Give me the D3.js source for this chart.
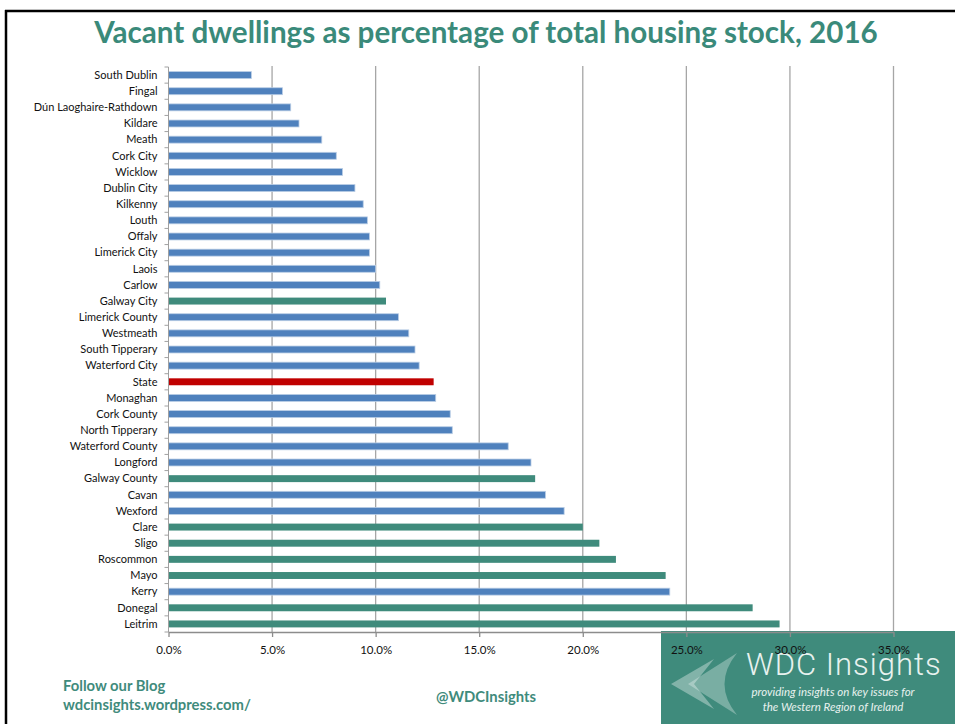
<!DOCTYPE html>
<html>
<head>
<meta charset="utf-8">
<script src="https://cdn.jsdelivr.net/npm/d3@7.9.0/dist/d3.min.js"></script>
<style>
  body { margin: 0; background: #fff; }
  svg { display: block; font-family: Lato, "Open Sans", sans-serif; }
</style>
</head>
<body>
<svg id="chart"></svg>
<script>
// areas, top to bottom, as in the picture
const areas = [
  'South Dublin', 'Fingal', 'Dún Laoghaire-Rathdown', 'Kildare', 'Meath',
  'Cork City', 'Wicklow', 'Dublin City', 'Kilkenny', 'Louth', 'Offaly',
  'Limerick City', 'Laois', 'Carlow', 'Galway City', 'Limerick County',
  'Westmeath', 'South Tipperary', 'Waterford City', 'State', 'Monaghan',
  'Cork County', 'North Tipperary', 'Waterford County', 'Longford',
  'Galway County', 'Cavan', 'Wexford', 'Clare', 'Sligo', 'Roscommon',
  'Mayo', 'Kerry', 'Donegal', 'Leitrim'
];

// vacancy rate, % of housing stock
const vacancy = [
  4.0, 5.5, 5.9, 6.3, 7.4,
  8.1, 8.4, 9.0, 9.4, 9.6, 9.7,
  9.7, 10.0, 10.2, 10.5, 11.1,
  11.6, 11.9, 12.1, 12.8, 12.9,
  13.6, 13.7, 16.4, 17.5,
  17.7, 18.2, 19.1, 20.0, 20.8, 21.6,
  24.0, 24.2, 28.2, 29.5
];

// western region counties get the teal bar, the State total is red
const western = ['Galway City', 'Galway County', 'Clare', 'Sligo', 'Roscommon', 'Mayo', 'Donegal', 'Leitrim'];
const stateName = 'State';

const xTicks = [0, 5, 10, 15, 20, 25, 30, 35];

const width = 955;
const height = 724;
const margin = { top: 67, right: 61, bottom: 92, left: 168.5 };

const blue = '#4f81bd';
const teal = '#3f8b7c';
const red = '#c00000';

const svg = d3.select('#chart').attr('width', width).attr('height', height);

const x = d3.scaleLinear()
  .domain([0, 35])
  .range([margin.left, width - margin.right - 0.5]);

const y = d3.scaleBand()
  .domain(areas)
  .range([margin.top, height - margin.bottom])
  .paddingInner(0.57)
  .paddingOuter(0.285);

// frame lines on the left and top
svg.append('line').attr('x1', 6).attr('x2', 6).attr('y1', 10).attr('y2', height)
  .attr('stroke', '#000').attr('stroke-width', 2.5);
svg.append('line').attr('x1', 5).attr('x2', width).attr('y1', 11).attr('y2', 11)
  .attr('stroke', '#000').attr('stroke-width', 2.5);

// title
svg.append('text')
  .attr('x', 486)
  .attr('y', 43)
  .attr('text-anchor', 'middle')
  .attr('font-size', 29.6)
  .attr('font-weight', 'bold')
  .attr('fill', '#3a8a7a')
  .text('Vacant dwellings as percentage of total housing stock, 2016');

// vertical gridlines
svg.append('g')
  .selectAll('line')
  .data(xTicks.slice(1))
  .join('line')
  .attr('x1', (d) => x(d))
  .attr('x2', (d) => x(d))
  .attr('y1', margin.top - 1)
  .attr('y2', height - margin.bottom)
  .attr('stroke', '#a6a6a6')
  .attr('stroke-width', 1.3);

// logo box, bottom right (drawn under the axis like in the picture)
const logo = svg.append('g');
logo.append('rect')
  .attr('x', 661).attr('y', 631)
  .attr('width', width - 661).attr('height', height - 631)
  .attr('fill', '#3f8b7c');
logo.append('path')
  .attr('d', 'M737,653 L688,684 L737,715 Q712,684 737,653 Z')
  .attr('fill', '#ffffff').attr('opacity', 0.3);
logo.append('path')
  .attr('d', 'M714,659 L671,684 L714,709 L694,684 Z')
  .attr('fill', '#ffffff').attr('opacity', 0.35);
logo.append('text')
  .attr('x', 746).attr('y', 675)
  .attr('font-size', 31)
  .attr('font-family', 'Roboto, sans-serif')
  .attr('font-weight', 300)
  .attr('fill', '#e8f2ef')
  .attr('letter-spacing', 1)
  .text('WDC Insights');
logo.append('text')
  .attr('x', 833).attr('y', 696)
  .attr('text-anchor', 'middle')
  .attr('font-size', 11.5)
  .attr('font-style', 'italic')
  .attr('fill', '#e8f2ef')
  .text('providing insights on key issues for');
logo.append('text')
  .attr('x', 833).attr('y', 710.5)
  .attr('text-anchor', 'middle')
  .attr('font-size', 11.5)
  .attr('font-style', 'italic')
  .attr('fill', '#e8f2ef')
  .text('the Western Region of Ireland');

// bars
svg.append('g')
  .selectAll('rect')
  .data(areas)
  .join('rect')
  .attr('x', x(0))
  .attr('y', (d) => y(d))
  .attr('width', (d, i) => x(vacancy[i]) - x(0))
  .attr('height', y.bandwidth())
  .attr('fill', (d) => d === stateName ? red : western.includes(d) ? teal : blue)
  .attr('stroke', (d) => d === stateName || western.includes(d) ? 'none' : '#b9cde5')
  .attr('stroke-width', 0.8);

// category axis: vertical line with ticks between the categories
const step = y.step();
const yTop = y.range()[0];
svg.append('line')
  .attr('x1', x(0)).attr('x2', x(0))
  .attr('y1', yTop).attr('y2', height - margin.bottom)
  .attr('stroke', '#a0a0a0').attr('stroke-width', 1);
svg.append('g')
  .selectAll('line')
  .data(d3.range(areas.length + 1))
  .join('line')
  .attr('x1', x(0) - 4).attr('x2', x(0))
  .attr('y1', (i) => yTop + i * step)
  .attr('y2', (i) => yTop + i * step)
  .attr('stroke', '#a0a0a0');

svg.append('g')
  .selectAll('text')
  .data(areas)
  .join('text')
  .attr('x', x(0) - 11)
  .attr('y', (d) => y(d) + y.bandwidth() / 2)
  .attr('dy', '0.35em')
  .attr('text-anchor', 'end')
  .attr('font-size', 11)
  .attr('fill', '#111')
  .text((d) => d);

// value axis
const xAxis = d3.axisBottom(x)
  .tickValues(xTicks)
  .tickFormat((d) => d.toFixed(1) + '%')
  .tickSizeInner(5)
  .tickSizeOuter(0);

const gx = svg.append('g')
  .attr('transform', `translate(0, ${height - margin.bottom})`)
  .call(xAxis);
gx.select('.domain').attr('stroke', '#8c8c8c').attr('stroke-width', 1.5);
gx.selectAll('.tick line').attr('stroke', '#8c8c8c').attr('stroke-width', 1.3);
gx.selectAll('.tick text')
  .attr('font-family', 'Lato, sans-serif')
  .attr('font-size', 11.5)
  .attr('fill', '#111')
  .attr('dy', '1.2em');

// footer
const footer = svg.append('g')
  .attr('font-weight', 'bold')
  .attr('font-size', 14.8)
  .attr('fill', '#3f8b7c');
footer.append('text').attr('x', 63).attr('y', 691).text('Follow our Blog');
footer.append('text').attr('x', 63).attr('y', 710).text('wdcinsights.wordpress.com/');
footer.append('text').attr('x', 486).attr('y', 702).attr('text-anchor', 'middle').text('@WDCInsights');
</script>
</body>
</html>
